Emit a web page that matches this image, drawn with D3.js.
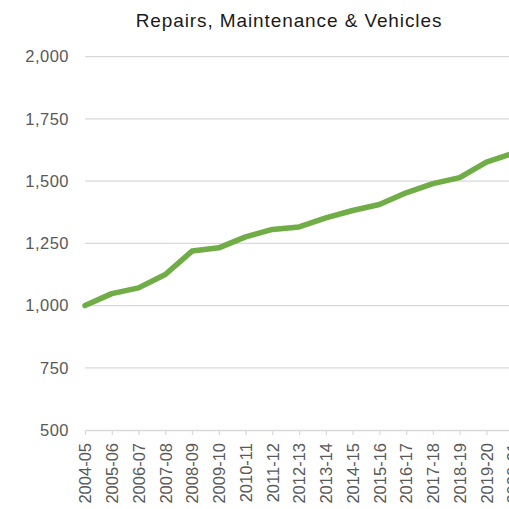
<!DOCTYPE html>
<html><head><meta charset="utf-8">
<script src="https://cdn.jsdelivr.net/npm/d3@7"></script>
<style>html,body{margin:0;padding:0;background:#fff;overflow:hidden}svg{display:block}</style>
</head><body>
<script>
const title = "Repairs, Maintenance & Vehicles";
const categories = ["2004-05","2005-06","2006-07","2007-08","2008-09","2009-10","2010-11","2011-12","2012-13","2013-14","2014-15","2015-16","2016-17","2017-18","2018-19","2019-20","2020-21"];
const values = [1000,1048,1071,1125,1219,1232,1276,1306,1316,1352,1382,1406,1453,1490,1514,1576,1612];
const yTicks = [500,750,1000,1250,1500,1750,2000];

const W = 509, H = 509;
const svg = d3.select("body").append("svg").attr("width", W).attr("height", H);
const left = 85, step = 26.76;
const x = d3.scalePoint().domain(categories).range([left, left + step*(categories.length-1)]);
const y = d3.scaleLinear().domain([500,2000]).range([430, 56.7]);
const plotRight = left + step*(categories.length-1) + 10;
const font = "'Liberation Sans', Arial, sans-serif";

// gridlines
svg.append("g").selectAll("line").data(yTicks.filter(d=>d>500)).join("line")
  .attr("x1", left).attr("x2", plotRight)
  .attr("y1", d=>y(d)).attr("y2", d=>y(d))
  .attr("stroke", "#d9d9d9").attr("stroke-width", 1.3);

// y axis labels
const yAxis = d3.axisLeft(y).tickValues(yTicks).tickSize(0).tickPadding(16).tickFormat(d3.format(","));
const yg = svg.append("g").attr("transform", `translate(${left},0)`).call(yAxis);
yg.select(".domain").remove();
yg.selectAll("text").attr("fill","#595959").style("font-family",font).style("font-size","16.5px").style("letter-spacing","0.5px");

// x axis
const xAxis = d3.axisBottom(x).tickSize(5).tickPadding(6);
const xg = svg.append("g").attr("transform", `translate(0,${y(500)})`).call(xAxis);
xg.select(".domain").attr("d", `M${left},0.5H${plotRight}`).attr("stroke","#d9d9d9").attr("stroke-width",1.3);
xg.selectAll(".tick line").attr("stroke","#d9d9d9").attr("stroke-width",1.3);
xg.selectAll("text")
  .attr("fill","#595959")
  .style("font-family",font).style("font-size","16.5px")
  .attr("transform","rotate(-90)")
  .attr("text-anchor","end")
  .attr("x", -13).attr("y", 0).attr("dy","0.35em");

// line
const line = d3.line().x((d,i)=>x(categories[i])).y(d=>y(d));
svg.append("path").datum(values).attr("d", line)
  .attr("fill","none").attr("stroke","#70ad47").attr("stroke-width",5.5)
  .attr("stroke-linejoin","round").attr("stroke-linecap","round");

// title
svg.append("text").attr("x", 289).attr("y", 27).attr("text-anchor","middle")
  .attr("fill","#1a1a1a")
  .style("font-family",font).style("font-size","19px").style("letter-spacing","0.9px")
  .text(title);
</script>
</body></html>
